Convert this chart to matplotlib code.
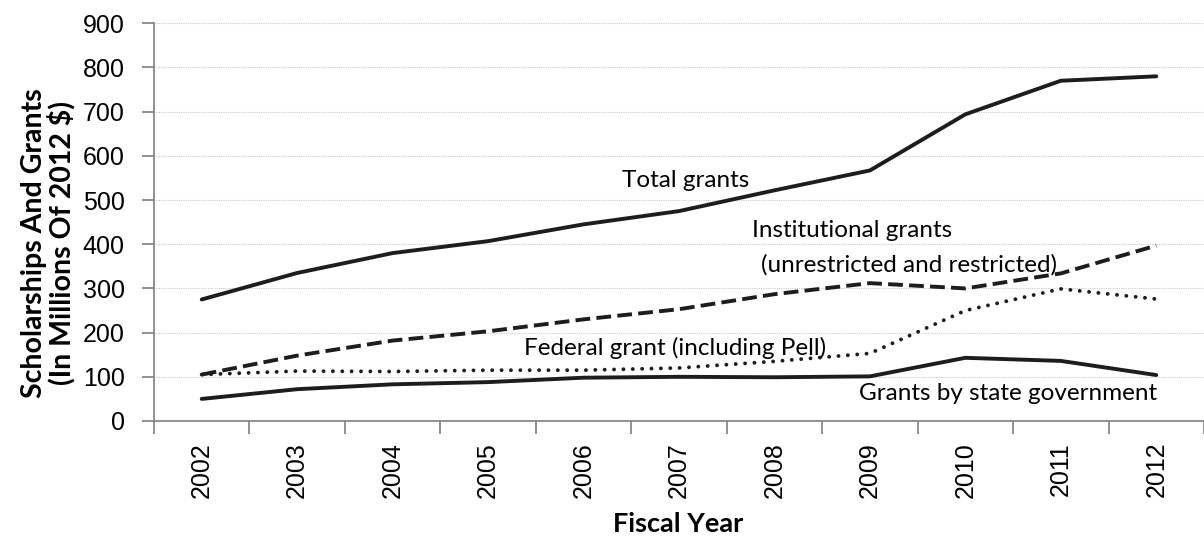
import matplotlib.pyplot as plt

years = ["2002", "2003", "2004", "2005", "2006", "2007", "2008", "2009", "2010", "2011", "2012"]
total_grants = [275, 335, 380, 407, 445, 475, 522, 567, 694, 770, 780]
institutional = [105, 148, 182, 203, 230, 253, 287, 312, 300, 334, 397]
federal = [105, 113, 112, 115, 115, 120, 135, 153, 250, 299, 276]
state = [50, 72, 83, 88, 98, 100, 99, 101, 143, 136, 104]

plt.rcParams['font.family'] = ['Lato', 'DejaVu Sans']

fig = plt.figure(figsize=(12.04, 5.36), dpi=100)
ax = fig.add_axes([154 / 1204, 1 - 421 / 536, 1 - 154 / 1204, (421 - 23.3) / 536])

x = list(range(len(years)))
col = "#1e1c1d"
lw = 2.8
ax.plot(x, total_grants, color=col, lw=lw, solid_joinstyle="round", solid_capstyle="round")
ax.plot(x, institutional, color=col, lw=lw, dashes=(3.8, 1.6))
ax.plot(x, federal, color=col, lw=2.8, dashes=(0.01, 2.4), dash_capstyle="round")
ax.plot(x, state, color=col, lw=lw, solid_joinstyle="round", solid_capstyle="round")

ax.set_xlim(-0.5, 10.4)
ax.set_ylim(0, 900)
ax.set_yticks(range(0, 901, 100))
ax.set_xticks(x)
ax.set_xticklabels(years, rotation=90, family="Liberation Sans", fontsize=18)
ax.set_xticks([i + 0.5 for i in range(-1, 11)], minor=True)
ax.tick_params(axis="x", which="major", length=0, pad=15)
ax.tick_params(axis="x", which="minor", length=9, color="#888888", width=1.3)
ax.tick_params(axis="y", length=9, color="#888888", width=1.3, labelsize=18, pad=12)
for lab in ax.get_yticklabels():
    lab.set_family("Liberation Sans")

ax.grid(axis="y", color="#cccccc", linestyle=(0, (1, 1)), lw=0.8)
ax.set_axisbelow(True)
for s in ["top", "right"]:
    ax.spines[s].set_visible(False)
for s in ["left", "bottom"]:
    ax.spines[s].set_color("#888888")
    ax.spines[s].set_linewidth(1.3)

fs = 17.5
ax.text(5.07, 545, "Total grants", ha="center", va="center", fontsize=fs)
ax.text(6.81, 432, "Institutional grants", ha="center", va="center", fontsize=fs)
ax.text(7.41, 353, "(unrestricted and restricted)", ha="center", va="center", fontsize=fs)
ax.text(4.96, 165, "Federal grant (including Pell)", ha="center", va="center", fontsize=fs)
ax.text(8.45, 63, "Grants by state government", ha="center", va="center", fontsize=fs)

fig.text(48 / 1204, 1 - 243 / 536, "Scholarships And Grants\n(In Millions Of 2012 $)",
         rotation=90, ha="center", va="center", fontsize=20.5, fontweight="bold", linespacing=1.0)
fig.text(678 / 1204, 1 - 532 / 536, "Fiscal Year", ha="center", va="baseline",
         fontsize=19.5, fontweight="bold")

fig.savefig("out.png", dpi=100)
